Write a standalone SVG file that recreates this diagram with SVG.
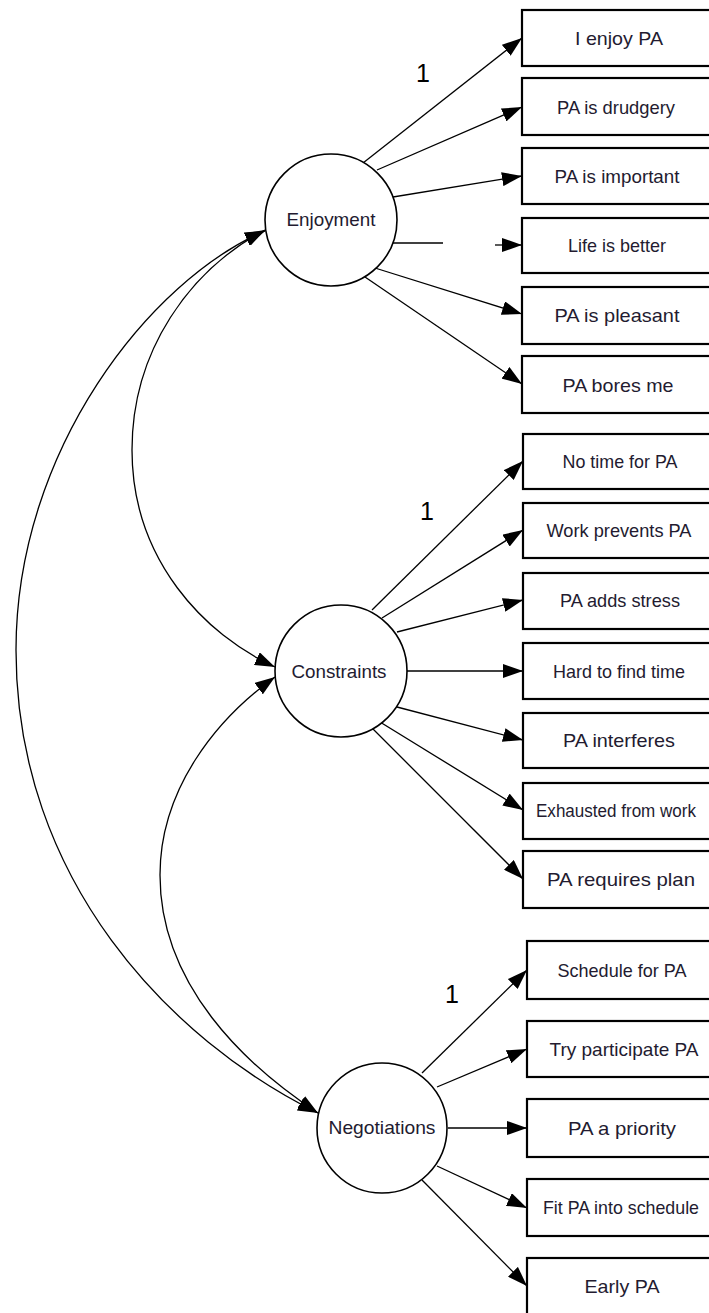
<svg xmlns="http://www.w3.org/2000/svg" width="709" height="1313" viewBox="0 0 709 1313">
  <style>
    .box { fill: #ffffff; stroke: #000000; stroke-width: 2.2; }
    .latent { fill: #ffffff; stroke: #000000; stroke-width: 1.6; }
    .lbl { font-family: "Liberation Sans", Arial, sans-serif; font-size: 19px; fill: #231b30; text-anchor: middle; }
    .one { font-family: "Liberation Sans", Arial, sans-serif; font-size: 25px; fill: #000000; text-anchor: middle; }
    .edge { fill: none; stroke: #000000; stroke-width: 1.3; }
  </style>
  <defs>
    <marker id="head" viewBox="0 0 20 14" refX="20" refY="7" markerWidth="20" markerHeight="14" markerUnits="userSpaceOnUse" orient="auto-start-reverse">
      <path d="M0,0 L20,7 L0,14 z" fill="#000000"/>
    </marker>
  </defs>
  <rect width="709" height="1313" fill="#ffffff"/>

  <!-- connectors: loadings and covariances -->
  <g id="connectors">
    <!-- covariance arcs between the three factors -->
    <path class="edge" d="M265,230 C190,270 132,350 132,450 C132,560 205,635 275,667" marker-start="url(#head)" marker-end="url(#head)"/>
    <path class="edge" d="M275,677 C215,720 160,790 160,875 C160,985 245,1065 318,1113" marker-start="url(#head)" marker-end="url(#head)"/>
    <path class="edge" d="M265,231 C150,280 16,450 16,650 C16,880 170,1040 318,1113" marker-start="url(#head)" marker-end="url(#head)"/>

    <!-- Enjoyment loadings -->
    <line class="edge" x1="363" y1="163" x2="522" y2="38" marker-end="url(#head)"/>
    <line class="edge" x1="377" y1="170" x2="522" y2="107" marker-end="url(#head)"/>
    <line class="edge" x1="393" y1="197" x2="522" y2="176" marker-end="url(#head)"/>
    <line class="edge" x1="392" y1="243" x2="443" y2="243"/>
    <line class="edge" x1="495" y1="245" x2="522" y2="245" marker-end="url(#head)"/>
    <line class="edge" x1="375" y1="268" x2="522" y2="314" marker-end="url(#head)"/>
    <line class="edge" x1="365" y1="277" x2="522" y2="384" marker-end="url(#head)"/>

    <!-- Constraints loadings -->
    <line class="edge" x1="372" y1="610" x2="523" y2="461" marker-end="url(#head)"/>
    <line class="edge" x1="382" y1="618" x2="523" y2="530" marker-end="url(#head)"/>
    <line class="edge" x1="397" y1="632" x2="523" y2="600" marker-end="url(#head)"/>
    <line class="edge" x1="407" y1="671" x2="523" y2="671" marker-end="url(#head)"/>
    <line class="edge" x1="397" y1="707" x2="523" y2="740" marker-end="url(#head)"/>
    <line class="edge" x1="380" y1="722" x2="523" y2="810" marker-end="url(#head)"/>
    <line class="edge" x1="372" y1="728" x2="523" y2="879" marker-end="url(#head)"/>

    <!-- Negotiations loadings -->
    <line class="edge" x1="422" y1="1073" x2="527" y2="970" marker-end="url(#head)"/>
    <line class="edge" x1="437" y1="1087" x2="527" y2="1049" marker-end="url(#head)"/>
    <line class="edge" x1="448" y1="1128" x2="527" y2="1128" marker-end="url(#head)"/>
    <line class="edge" x1="437" y1="1166" x2="527" y2="1208" marker-end="url(#head)"/>
    <line class="edge" x1="422" y1="1180" x2="527" y2="1286" marker-end="url(#head)"/>

    <!-- fixed loadings -->
    <text class="one" x="423" y="82">1</text>
    <text class="one" x="427" y="520">1</text>
    <text class="one" x="452" y="1003">1</text>
  </g>

  <!-- latent factors -->
  <g id="enjoyment">
    <circle class="latent" cx="331" cy="220" r="66"/>
    <text class="lbl" x="331" y="226" textLength="89" lengthAdjust="spacingAndGlyphs">Enjoyment</text>
  </g>
  <g id="constraints">
    <circle class="latent" cx="341" cy="671" r="66"/>
    <text class="lbl" x="339" y="678" textLength="95" lengthAdjust="spacingAndGlyphs">Constraints</text>
  </g>
  <g id="negotiations">
    <circle class="latent" cx="382" cy="1128" r="65"/>
    <text class="lbl" x="382" y="1134" textLength="107" lengthAdjust="spacingAndGlyphs">Negotiations</text>
  </g>

  <!-- Enjoyment indicators -->
  <g id="i-enjoy-pa"><rect class="box" x="522" y="10" width="200" height="56"/><text class="lbl" x="619" y="45" textLength="88" lengthAdjust="spacingAndGlyphs">I enjoy PA</text></g>
  <g id="pa-drudgery"><rect class="box" x="522" y="78" width="200" height="57"/><text class="lbl" x="616" y="114" textLength="118" lengthAdjust="spacingAndGlyphs">PA is drudgery</text></g>
  <g id="pa-important"><rect class="box" x="522" y="148" width="200" height="56"/><text class="lbl" x="617" y="183" textLength="125" lengthAdjust="spacingAndGlyphs">PA is important</text></g>
  <g id="life-better"><rect class="box" x="522" y="218" width="200" height="55"/><text class="lbl" x="617" y="252" textLength="98" lengthAdjust="spacingAndGlyphs">Life is better</text></g>
  <g id="pa-pleasant"><rect class="box" x="522" y="287" width="200" height="57"/><text class="lbl" x="617" y="322" textLength="125" lengthAdjust="spacingAndGlyphs">PA is pleasant</text></g>
  <g id="pa-bores"><rect class="box" x="522" y="356" width="200" height="57"/><text class="lbl" x="618" y="392" textLength="111" lengthAdjust="spacingAndGlyphs">PA bores me</text></g>

  <!-- Constraints indicators -->
  <g id="no-time"><rect class="box" x="523" y="434" width="200" height="55"/><text class="lbl" x="620" y="468" textLength="115" lengthAdjust="spacingAndGlyphs">No time for PA</text></g>
  <g id="work-prevents"><rect class="box" x="523" y="503" width="200" height="55"/><text class="lbl" x="619" y="537" textLength="145" lengthAdjust="spacingAndGlyphs">Work prevents PA</text></g>
  <g id="adds-stress"><rect class="box" x="523" y="573" width="200" height="56"/><text class="lbl" x="620" y="607" textLength="120" lengthAdjust="spacingAndGlyphs">PA adds stress</text></g>
  <g id="hard-to-find"><rect class="box" x="523" y="643" width="200" height="56"/><text class="lbl" x="619" y="678" textLength="132" lengthAdjust="spacingAndGlyphs">Hard to find time</text></g>
  <g id="pa-interferes"><rect class="box" x="523" y="713" width="200" height="55"/><text class="lbl" x="619" y="747" textLength="112" lengthAdjust="spacingAndGlyphs">PA interferes</text></g>
  <g id="exhausted"><rect class="box" x="523" y="783" width="200" height="56"/><text class="lbl" x="616" y="817" style="font-size:17.5px" textLength="160" lengthAdjust="spacingAndGlyphs">Exhausted from work</text></g>
  <g id="requires-plan"><rect class="box" x="523" y="851" width="200" height="57"/><text class="lbl" x="621" y="886" textLength="148" lengthAdjust="spacingAndGlyphs">PA requires plan</text></g>

  <!-- Negotiations indicators -->
  <g id="schedule-for-pa"><rect class="box" x="527" y="941" width="200" height="58"/><text class="lbl" x="622" y="977" textLength="129" lengthAdjust="spacingAndGlyphs">Schedule for PA</text></g>
  <g id="try-participate"><rect class="box" x="527" y="1021" width="200" height="56"/><text class="lbl" x="624" y="1056" textLength="149" lengthAdjust="spacingAndGlyphs">Try participate PA</text></g>
  <g id="pa-priority"><rect class="box" x="527" y="1099" width="200" height="58"/><text class="lbl" x="622" y="1135" textLength="108" lengthAdjust="spacingAndGlyphs">PA a priority</text></g>
  <g id="fit-pa"><rect class="box" x="527" y="1179" width="200" height="57"/><text class="lbl" x="621" y="1214" textLength="156" lengthAdjust="spacingAndGlyphs">Fit PA into schedule</text></g>
  <g id="early-pa"><rect class="box" x="527" y="1258" width="200" height="70"/><text class="lbl" x="622" y="1293" textLength="75" lengthAdjust="spacingAndGlyphs">Early PA</text></g>
</svg>
